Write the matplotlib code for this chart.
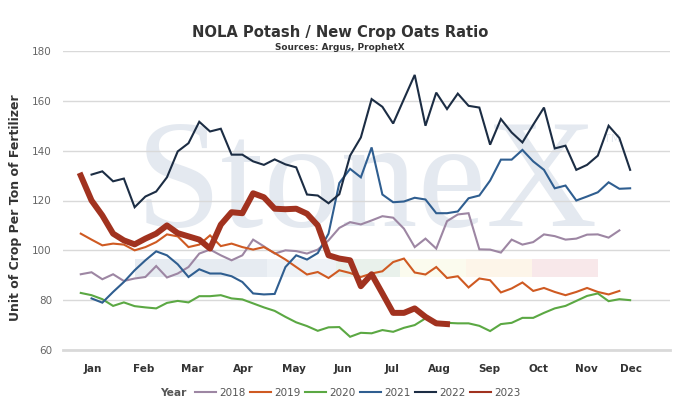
import numpy as np
import matplotlib
matplotlib.use("Agg")
import matplotlib.pyplot as plt
from matplotlib.lines import Line2D
from matplotlib.patches import Rectangle

# weekly ratio values
weeks_2018 = np.arange(1, 52)
ratio_2018 = [90.4, 91.2, 88.4, 90.4, 87.7, 88.7, 89.3, 93.7, 89.1, 90.7,
              93.3, 98.7, 100.3, 98, 96, 98, 104.3, 101.6, 98.7, 100,
              99.7, 98.7, 100.3, 104, 109, 111.3, 110.4, 112, 113.7, 113.1,
              108.7, 101.3, 104.7, 100.7, 111.7, 114.4, 114.9, 100.4, 100.3, 99.1,
              104.3, 102.3, 103.3, 106.4, 105.7, 104.3, 104.7, 106.3, 106.4, 105.1, 108]

weeks_2019 = np.arange(1, 52)
ratio_2019 = [106.7, 104.3, 102, 102.7, 102.3, 100, 101.3, 103.3, 106.4, 105.6,
              101.3, 102.3, 106, 101.7, 102.7, 101.3, 100.3, 101.3, 98.9, 96.3,
              93.3, 90.3, 91.3, 88.9, 92, 90.9, 89.3, 90.7, 91.6, 95.3,
              96.7, 91.1, 90.3, 93.3, 88.9, 89.6, 85.1, 88.7, 88, 83.1,
              84.7, 87.1, 83.7, 84.9, 83.3, 82, 83.3, 84.9, 83.3, 82.3, 83.7]

weeks_2020 = np.arange(1, 53)
ratio_2020 = [82.9, 82, 80.4, 77.7, 79.1, 77.6, 77.1, 76.7, 78.9, 79.7,
              79.1, 81.6, 81.6, 82, 80.7, 80.3, 78.7, 77.1, 75.7, 73.3,
              71.1, 69.6, 67.7, 69.1, 69.2, 65.3, 66.9, 66.7, 68, 67.3,
              68.9, 70, 72.7, 71.3, 70.9, 70.7, 70.7, 69.7, 67.6, 70.4,
              70.9, 72.9, 72.9, 74.9, 76.7, 77.7, 79.7, 81.7, 82.7, 79.6,
              80.4, 80]

weeks_2021 = np.arange(2, 53)
ratio_2021 = [80.7, 79, 83.3, 87.3, 92, 96, 99.6, 98, 94.4, 89.3,
              92.4, 90.7, 90.7, 89.6, 87.3, 82.7, 82.3, 82.5, 93.3, 98,
              96.3, 98.9, 106.7, 127, 132.7, 129.3, 141.3, 122.4, 119.3, 119.6,
              121.1, 120.4, 114.9, 114.9, 115.6, 120.9, 122, 128, 136.4, 136.4,
              140.3, 135.7, 132.3, 124.9, 126, 120, 121.6, 123.3, 127.3, 124.7, 124.9]

weeks_2022 = np.arange(2, 53)
ratio_2022 = [130.4, 131.7, 127.7, 128.8, 117.3, 121.6, 123.6, 129.3, 139.7, 143,
              151.6, 147.7, 148.8, 138.4, 138.4, 135.7, 134.3, 136.5, 134.5, 133.3,
              122.4, 122, 118.9, 122.5, 138, 145.3, 160.7, 157.6, 150.9, 160.7,
              170.4, 150, 163.3, 156.7, 162.9, 158, 157.3, 142.4, 152.7, 147.3,
              143.3, 150.4, 157.3, 140.9, 142, 132.3, 134.3, 138, 150, 145.1, 132.3]

weeks_2023 = np.arange(1, 36)
ratio_2023 = [130, 120, 114, 106.7, 104, 102.4, 104.7, 106.7, 110, 106.9,
              105.6, 104.3, 100.7, 110.3, 115.3, 114.9, 122.9, 121.3, 116.7, 116.5,
              116.7, 114.7, 110, 98, 96.7, 96, 85.6, 90.4, 82.7, 74.9,
              74.9, 76.7, 73.3, 70.7, 70.4]

months = ["Jan", "Feb", "Mar", "Apr", "May", "Jun",
          "Jul", "Aug", "Sep", "Oct", "Nov", "Dec"]
month_pos = [2.1, 6.8, 11.4, 16.1, 20.8, 25.3, 29.9, 34.3, 38.9, 43.5, 47.9, 52.1]

series = [
    ("2018", weeks_2018, ratio_2018, "#9d86a3", 1.5),
    ("2019", weeks_2019, ratio_2019, "#cf5a22", 1.5),
    ("2020", weeks_2020, ratio_2020, "#5ba843", 1.5),
    ("2021", weeks_2021, ratio_2021, "#2f5e90", 1.5),
    ("2022", weeks_2022, ratio_2022, "#1c2d44", 1.5),
    ("2023", weeks_2023, ratio_2023, "#a1321f", 4.3),
]

W, H = 680, 416
fig = plt.figure(figsize=(6.8, 4.16), dpi=100)
ax = fig.add_axes([63 / W, 1 - 350 / H, (670 - 63) / W, (350 - 51) / H])


def fx(px):
    return px / W


def fy(py):
    return 1 - py / H


# StoneX watermark
ax.text(fx(136), fy(226), "StoneX", transform=fig.transFigure, fontsize=111,
        family="Liberation Serif", color="#e4e9f0", ha="left", va="baseline", zorder=0.1)
ax.text(fx(604), fy(139), "TM", transform=fig.transFigure, fontsize=8,
        color="#e4e9f0", ha="left", va="center", zorder=0.1)
bands = [(135, 267, "#e6ebf1"), (267, 336, "#eef2f6"), (336, 400, "#e9f1eb"),
         (400, 466, "#fbfbee"), (466, 532, "#fdf5e9"), (532, 598, "#f8e8ea")]
for x0, x1, c in bands:
    ax.add_patch(Rectangle((fx(x0), fy(277)), fx(x1) - fx(x0), (277 - 259) / H,
                           transform=fig.transFigure, color=c, lw=0, zorder=0.1))

for name, w, v, c, lw in series:
    ax.plot(w, v, color=c, lw=lw, solid_joinstyle="miter" if lw < 2 else "round",
            zorder=3 if name == "2023" else 2)

ax.set_xlim(-0.65, 55.7)
ax.set_ylim(60, 180)
ax.set_yticks([60, 80, 100, 120, 140, 160, 180])
ax.grid(axis="y", color="#d9d9d9", lw=1)
ax.set_axisbelow(True)
for s in ["top", "right", "left"]:
    ax.spines[s].set_visible(False)
ax.spines["bottom"].set_color("#d9d9d9")
ax.spines["bottom"].set_linewidth(2)
ax.tick_params(axis="y", length=0, labelsize=7.5, labelcolor="#666666", pad=8)
ax.set_xticks(month_pos)
ax.set_xticklabels(months, fontsize=7.5, fontweight="bold", color="#333333")
ax.tick_params(axis="x", length=0, pad=10)

ax.set_ylabel("Unit of Crop Per Ton of Fertilizer", fontsize=9, fontweight="bold",
              color="#333333")
ax.yaxis.set_label_coords((22 - 63) / 607, (350 - 208) / 299)

fig.text(0.5, fy(32), "NOLA Potash / New Crop Oats Ratio", ha="center", va="center",
         fontsize=10.6, fontweight="bold", color="#333333")
fig.text(0.5, fy(48), "Sources: Argus, ProphetX", ha="center", va="center",
         fontsize=6.4, fontweight="bold", color="#333333")

# legend
fig.text(fx(160), fy(393), "Year", ha="left", va="center", fontsize=7.7,
         fontweight="bold", color="#555555")
handles = [Line2D([], [], color=c, lw=1.5) for _, _, _, c, _ in series]
fig.legend(handles, [s[0] for s in series], loc="center", bbox_to_anchor=(fx(358), fy(393)),
           ncol=6, frameon=False, fontsize=7.5, handlelength=2.0, handletextpad=0.3,
           columnspacing=0.45, labelcolor="#555555", borderpad=0, borderaxespad=0)

fig.savefig("out.png", dpi=100)
